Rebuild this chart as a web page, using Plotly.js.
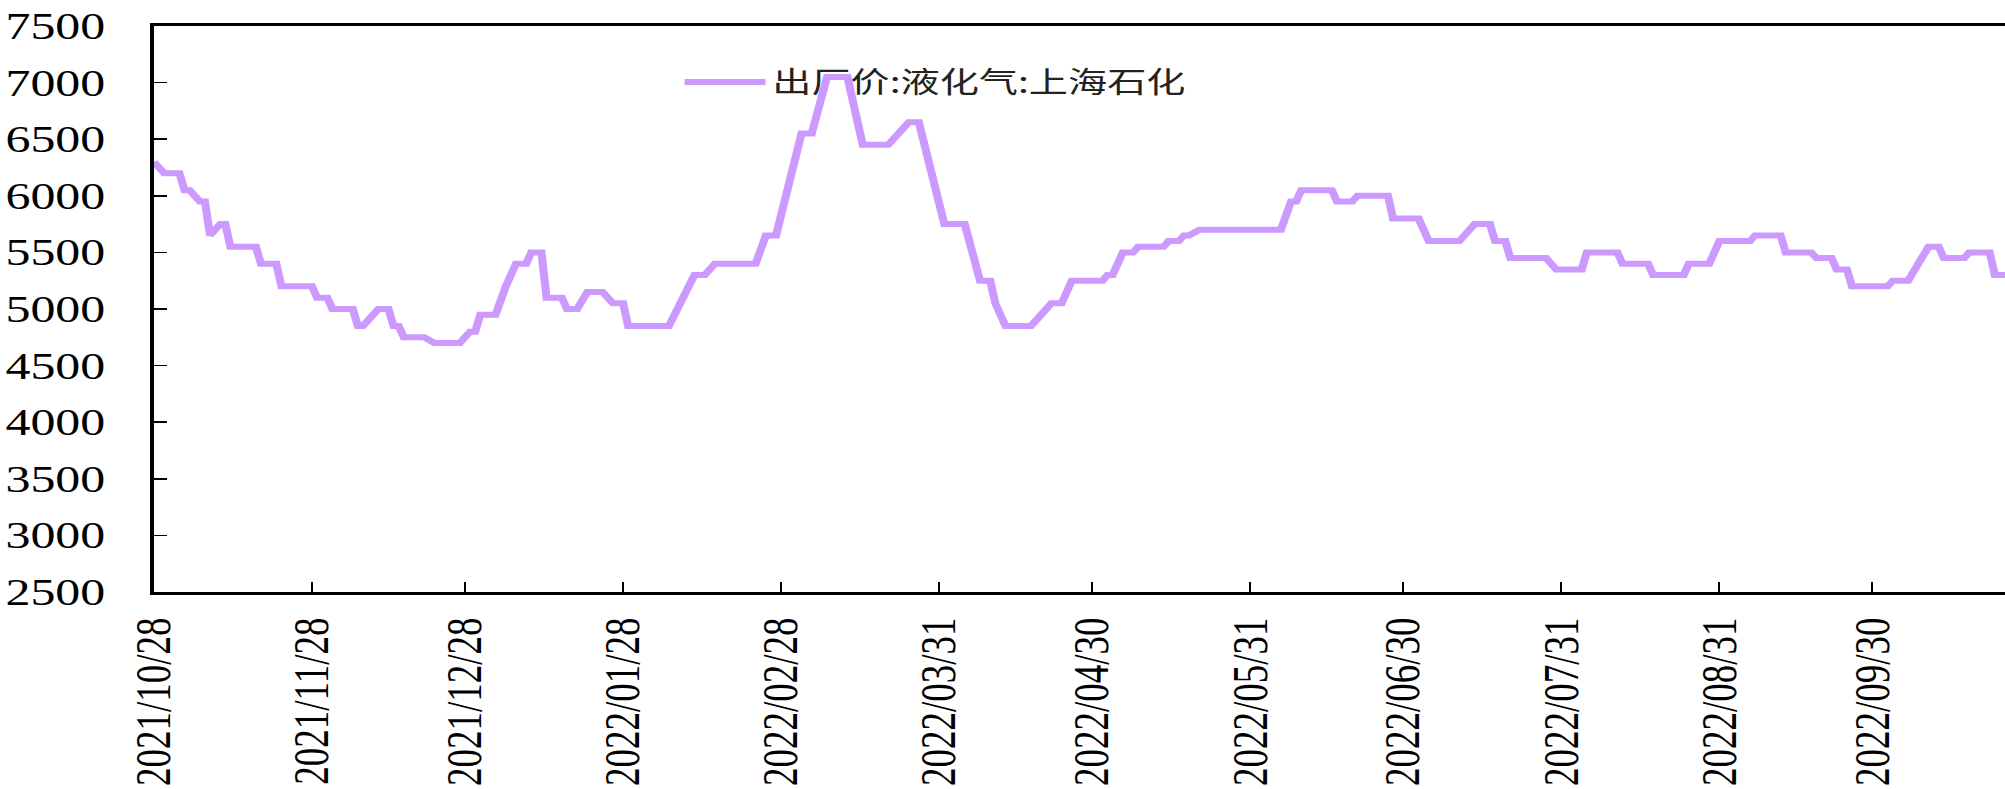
<!DOCTYPE html>
<html><head><meta charset="utf-8">
<script src="https://cdn.plot.ly/plotly-3.0.1.min.js"></script>
<style>
html,body{margin:0;padding:0;background:#fff;overflow:hidden;width:2005px;height:789px;}
#wrap{width:1485px;height:789px;transform:scaleX(1.35017);transform-origin:0 0;}
#chart{width:1485px;height:789px;}
</style></head><body><div id="wrap"><div id="chart"></div></div>
<script>
const seriesName = '出厂价:液化气:上海石化';
const dates = [
'2021-10-28','2021-10-30','2021-11-02','2021-11-03','2021-11-04','2021-11-06','2021-11-07','2021-11-08','2021-11-10','2021-11-11',
'2021-11-12','2021-11-17','2021-11-18','2021-11-21','2021-11-22','2021-11-28','2021-11-29','2021-12-01','2021-12-02','2021-12-06',
'2021-12-07','2021-12-08','2021-12-11','2021-12-13','2021-12-14','2021-12-15','2021-12-16','2021-12-20','2021-12-22','2021-12-27',
'2021-12-29','2021-12-30','2021-12-31','2022-01-03','2022-01-05','2022-01-07','2022-01-09','2022-01-10','2022-01-12','2022-01-13',
'2022-01-16','2022-01-17','2022-01-19','2022-01-21','2022-01-24','2022-01-26','2022-01-28','2022-01-29','2022-02-06','2022-02-11',
'2022-02-13','2022-02-15','2022-02-23','2022-02-25','2022-02-27','2022-03-04','2022-03-06','2022-03-09','2022-03-13','2022-03-16',
'2022-03-21','2022-03-25','2022-03-27','2022-04-01','2022-04-05','2022-04-08','2022-04-10','2022-04-11','2022-04-13','2022-04-18',
'2022-04-22','2022-04-24','2022-04-26','2022-05-02','2022-05-03','2022-05-04','2022-05-06','2022-05-08','2022-05-09','2022-05-14',
'2022-05-15','2022-05-17','2022-05-18','2022-05-19','2022-05-21','2022-06-06','2022-06-08','2022-06-09','2022-06-10','2022-06-16',
'2022-06-17','2022-06-20','2022-06-21','2022-06-27','2022-06-28','2022-07-03','2022-07-05','2022-07-11','2022-07-14','2022-07-17',
'2022-07-18','2022-07-20','2022-07-21','2022-07-28','2022-07-30','2022-08-04','2022-08-05','2022-08-11','2022-08-12','2022-08-17',
'2022-08-18','2022-08-24','2022-08-25','2022-08-29','2022-08-31','2022-09-06','2022-09-07','2022-09-12','2022-09-13','2022-09-18',
'2022-09-19','2022-09-22','2022-09-23','2022-09-25','2022-09-26','2022-10-03','2022-10-04','2022-10-07','2022-10-11','2022-10-13',
'2022-10-14','2022-10-18','2022-10-19','2022-10-23','2022-10-24','2022-10-26'
];
const prices = [
6300,6200,6200,6050,6050,5950,5950,5650,5750,5750,
5550,5550,5400,5400,5200,5200,5100,5100,5000,5000,
4850,4850,5000,5000,4850,4850,4750,4750,4700,4700,
4800,4800,4950,4950,5200,5400,5400,5500,5500,5100,
5100,5000,5000,5150,5150,5050,5050,4850,4850,5300,
5300,5400,5400,5650,5650,6550,6550,7050,7050,6450,
6450,6650,6650,5750,5750,5250,5250,5050,4850,4850,
5050,5050,5250,5250,5300,5300,5500,5500,5550,5550,
5600,5600,5650,5650,5700,5700,5950,5950,6050,6050,
5950,5950,6000,6000,5800,5800,5600,5600,5750,5750,
5600,5600,5450,5450,5350,5350,5500,5500,5400,5400,
5300,5300,5400,5400,5600,5600,5650,5650,5500,5500,
5450,5450,5350,5350,5200,5200,5250,5250,5550,5550,
5450,5450,5500,5500,5300,5300
];
const tickDates = ['2021-10-28','2021-11-28','2021-12-28','2022-01-28','2022-02-28','2022-03-31','2022-04-30','2022-05-31','2022-06-30','2022-07-31','2022-08-31','2022-09-30'];
const tickLabels = ['2021/10/28','2021/11/28','2021/12/28','2022/01/28','2022/02/28','2022/03/31','2022/04/30','2022/05/31','2022/06/30','2022/07/31','2022/08/31','2022/09/30'];
const yTicks = [2500,3000,3500,4000,4500,5000,5500,6000,6500,7000,7500];

const tickFont = {family: '"Liberation Serif", "Times New Roman", serif', size: 37, color: '#000'};

Plotly.newPlot('chart', [{
  x: dates, y: prices, type: 'scatter', mode: 'lines', name: seriesName,
  line: {color: '#CC99FF', width: 6}
}], {
  width: 1485, height: 789,
  margin: {l: 114, r: 0, t: 26, b: 197, pad: 0},
  paper_bgcolor: '#fff', plot_bgcolor: '#fff',
  showlegend: true,
  legend: {x: 0.283, y: 0.901, xanchor: 'left', yanchor: 'middle', bgcolor: 'rgba(0,0,0,0)',
           itemwidth: 60, font: {family: '"Noto Sans CJK SC", sans-serif', size: 29, color: '#222'}},
  xaxis: {type: 'date', range: ['2021-10-28', '2022-10-26'], tickvals: tickDates, ticktext: tickLabels,
          tickangle: -90, tickfont: tickFont, ticks: 'inside', ticklen: 10, tickwidth: 1.5, tickcolor: '#000',
          showline: true, linecolor: '#000', linewidth: 2.8, mirror: true, showgrid: false, zeroline: false,
          ticklabelstandoff: 8},
  yaxis: {range: [2500, 7500], tickvals: yTicks, tickfont: tickFont, ticks: 'inside', ticklen: 10, tickwidth: 1.5,
          tickcolor: '#000', showline: true, linecolor: '#000', linewidth: 2.6, showgrid: false, zeroline: false,
          ticklabelstandoff: 26, tickformat: 'd'}
}, {staticPlot: true, displayModeBar: false});
</script></body></html>
